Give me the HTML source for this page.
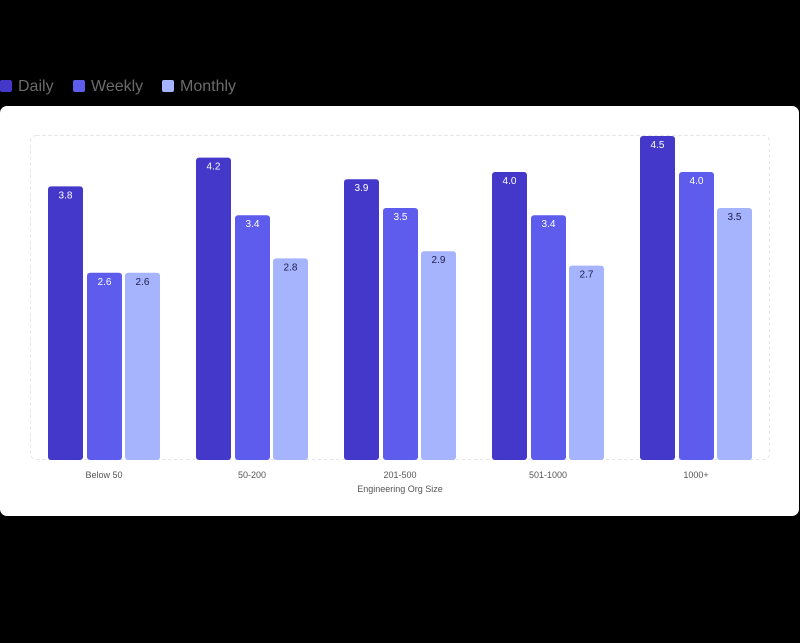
<!DOCTYPE html>
<html><head><meta charset="utf-8"><style>
html,body{margin:0;padding:0;background:#000;width:800px;height:643px;overflow:hidden}
svg{display:block;font-family:"Liberation Sans",sans-serif}
</style></head><body>
<svg width="800" height="643" viewBox="0 0 800 643">
<rect x="0" y="0" width="800" height="643" fill="#000"/>
<g font-size="16" fill="#6b6b6b">
<rect x="0" y="80" width="12" height="12" rx="2" fill="#4338ca"/><text x="18" y="91">Daily</text>
<rect x="73" y="80" width="12" height="12" rx="2" fill="#5e5ced"/><text x="91" y="91">Weekly</text>
<rect x="162" y="80" width="12" height="12" rx="2" fill="#a5b4fc"/><text x="180" y="91">Monthly</text>
</g>
<rect x="0" y="106" width="799" height="410" rx="7" fill="#fff"/>
<rect x="30.5" y="135.5" width="739" height="324" rx="6" fill="none" stroke="#e2e2e8" stroke-dasharray="3,3"/>
<g id="bars" font-size="10" text-anchor="middle"></g>
<g font-size="9" fill="#555" text-anchor="middle">
<text x="104" y="478">Below 50</text>
<text x="252" y="478">50-200</text>
<text x="400" y="478">201-500</text>
<text x="548" y="478">501-1000</text>
<text x="696" y="478">1000+</text>
<text x="400" y="492">Engineering Org Size</text>
</g>
<g fill="#4338ca">
<rect x="48" y="186.4" width="35" height="273.6" rx="3"/>
<rect x="196" y="157.6" width="35" height="302.4" rx="3"/>
<rect x="344" y="179.2" width="35" height="280.8" rx="3"/>
<rect x="492" y="172" width="35" height="288" rx="3"/>
<rect x="640" y="136" width="35" height="324" rx="3"/>
</g>
<g fill="#5e5ced">
<rect x="87" y="272.8" width="35" height="187.2" rx="3"/>
<rect x="235" y="215.2" width="35" height="244.8" rx="3"/>
<rect x="383" y="208" width="35" height="252" rx="3"/>
<rect x="531" y="215.2" width="35" height="244.8" rx="3"/>
<rect x="679" y="172" width="35" height="288" rx="3"/>
</g>
<g fill="#a5b4fc">
<rect x="125" y="272.8" width="35" height="187.2" rx="3"/>
<rect x="273" y="258.4" width="35" height="201.6" rx="3"/>
<rect x="421" y="251.2" width="35" height="208.8" rx="3"/>
<rect x="569" y="265.6" width="35" height="194.4" rx="3"/>
<rect x="717" y="208" width="35" height="252" rx="3"/>
</g>
<g font-size="10" text-anchor="middle" fill="#fff">
<text x="65.5" y="198.4">3.8</text>
<text x="213.5" y="169.6">4.2</text>
<text x="361.5" y="191.2">3.9</text>
<text x="509.5" y="184">4.0</text>
<text x="657.5" y="148">4.5</text>
<text x="104.5" y="284.8">2.6</text>
<text x="252.5" y="227.2">3.4</text>
<text x="400.5" y="220">3.5</text>
<text x="548.5" y="227.2">3.4</text>
<text x="696.5" y="184">4.0</text>
</g>
<g font-size="10" text-anchor="middle" fill="#1e1b4b">
<text x="142.5" y="284.8">2.6</text>
<text x="290.5" y="270.4">2.8</text>
<text x="438.5" y="263.2">2.9</text>
<text x="586.5" y="277.6">2.7</text>
<text x="734.5" y="220">3.5</text>
</g>
</svg>
</body></html>
